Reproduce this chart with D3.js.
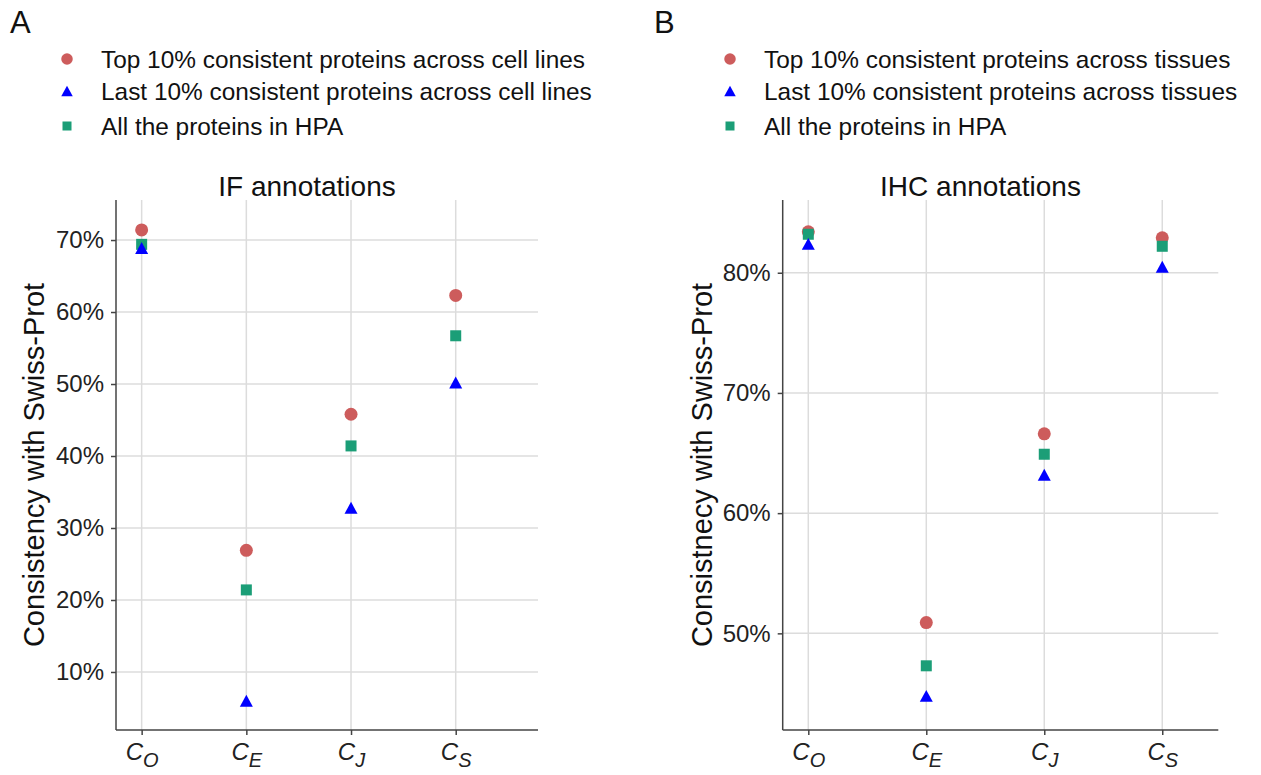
<!DOCTYPE html>
<html>
<head>
<meta charset="utf-8">
<script src="https://cdn.jsdelivr.net/npm/d3@7"></script>
<style>
  body { margin: 0; background: #fff; }
  svg { display: block; font-family: "Liberation Sans", Arial, sans-serif; }
  .axis text { font-size: 24px; fill: #222; }
</style>
</head>
<body>
<svg id="chart" width="1261" height="775"></svg>
<script>
// subscripts of the C_x categories
const categories = ["O", "E", "J", "S"];

const ifTop = [71.4, 26.9, 45.8, 62.3];
const ifLast = [68.9, 6.0, 32.8, 50.2];
const ifAll = [69.4, 21.4, 41.4, 56.7];
const ifTicks = [10, 20, 30, 40, 50, 60, 70];

const ihcTop = [83.4, 50.9, 66.6, 82.9];
const ihcLast = [82.4, 44.8, 63.2, 80.5];
const ihcAll = [83.2, 47.3, 64.9, 82.2];
const ihcTicks = [50, 60, 70, 80];

const ifLegend = [
  "Top 10% consistent proteins across cell lines",
  "Last 10% consistent proteins across cell lines",
  "All the proteins in HPA"
];
const ihcLegend = [
  "Top 10% consistent proteins across tissues",
  "Last 10% consistent proteins across tissues",
  "All the proteins in HPA"
];

const red = "#cd5c5c", blue = "#0000ff", green = "#1b9e77";

const svg = d3.select("#chart");

// marker shapes, bbox centred like matplotlib
function marker(g, shape, color, s) {
  if (shape == "circle") {
    g.append("circle").attr("r", s / 2).attr("fill", color);
  } else if (shape == "square") {
    g.append("rect").attr("x", -s / 2).attr("y", -s / 2)
      .attr("width", s).attr("height", s).attr("fill", color);
  } else {
    const w = s, h = s * 0.92;
    g.append("path").attr("d", `M0,${-h / 2}L${w / 2},${h / 2}L${-w / 2},${h / 2}Z`)
      .attr("fill", color);
  }
}

function drawPanel(cfg) {
  const x = d3.scaleLinear()
    .domain(cfg.xDomain)
    .range([cfg.left, cfg.right]);

  const y = d3.scaleLinear()
    .domain(cfg.yDomain)
    .range([cfg.bottom, cfg.top]);

  const g = svg.append("g");

  // grid
  g.append("g").selectAll("line")
    .data(cfg.ticks)
    .join("line")
      .attr("x1", cfg.left).attr("x2", cfg.right)
      .attr("y1", (d) => y(d)).attr("y2", (d) => y(d))
      .attr("stroke", "#dcdcdc").attr("stroke-width", 1.5);

  g.append("g").selectAll("line")
    .data(categories)
    .join("line")
      .attr("x1", (d, i) => x(i)).attr("x2", (d, i) => x(i))
      .attr("y1", cfg.top).attr("y2", cfg.bottom)
      .attr("stroke", "#dcdcdc").attr("stroke-width", 1.5);

  // y axis
  g.append("g")
    .attr("class", "axis")
    .attr("transform", `translate(${cfg.left},0)`)
    .call(d3.axisLeft(y).tickValues(cfg.ticks).tickFormat((d) => d + "%").tickSize(5).tickPadding(7))
    .call((a) => a.select(".domain").attr("stroke", "#444").attr("stroke-width", 1.5)
      .attr("d", `M0,${cfg.top}V${cfg.bottom}`))
    .call((a) => a.selectAll(".tick line").attr("stroke", "#444").attr("stroke-width", 1.5))
    .call((a) => a.selectAll(".tick text").attr("font-size", 24));

  // x axis
  const xa = g.append("g")
    .attr("class", "axis")
    .attr("transform", `translate(0,${cfg.bottom})`)
    .call(d3.axisBottom(x).tickValues(d3.range(categories.length)).tickFormat("").tickSize(5))
    .call((a) => a.select(".domain").attr("stroke", "#444").attr("stroke-width", 1.5)
      .attr("d", `M${cfg.left},0H${cfg.right}`))
    .call((a) => a.selectAll(".tick line").attr("stroke", "#444").attr("stroke-width", 1.5));

  xa.selectAll(".tick text").remove();
  const lab = xa.selectAll(".tick").append("text")
    .attr("y", 30)
    .attr("text-anchor", "middle")
    .attr("font-style", "italic")
    .attr("fill", "#222")
    .attr("font-size", 28);
  lab.append("tspan").text("C");
  lab.append("tspan").attr("font-size", 20).attr("dy", 7).text((d) => categories[d]);

  // points: red, green, blue order
  const series = [
    { vals: cfg.top10, shape: "circle", color: red, size: 13 },
    { vals: cfg.all, shape: "square", color: green, size: 11 },
    { vals: cfg.last10, shape: "triangle", color: blue, size: 13 }
  ];
  series.forEach((s) => {
    g.append("g").selectAll("g")
      .data(s.vals)
      .join("g")
        .attr("transform", (d, i) => `translate(${x(i)},${y(d)})`)
        .each(function () { marker(d3.select(this), s.shape, s.color, s.size); });
  });

  // title
  g.append("text")
    .attr("x", (cfg.left + cfg.right) / 2 - 20)
    .attr("y", 196)
    .attr("text-anchor", "middle")
    .attr("font-size", 28)
    .attr("fill", "#111")
    .text(cfg.title);

  // y label
  g.append("text")
    .attr("transform", `translate(${cfg.labelX},${(cfg.top + cfg.bottom) / 2}) rotate(-90)`)
    .attr("text-anchor", "middle")
    .attr("font-size", 29)
    .attr("fill", "#111")
    .text(cfg.ylabel);

  // panel letter
  g.append("text")
    .attr("x", cfg.letterX).attr("y", 33)
    .attr("font-size", 31)
    .attr("fill", "#111")
    .text(cfg.letter);

  // legend
  const legShapes = [
    { shape: "circle", color: red, size: 11.5 },
    { shape: "triangle", color: blue, size: 11.5 },
    { shape: "square", color: green, size: 9 }
  ];
  const rowY = [59, 91, 126];
  cfg.legend.forEach((t, i) => {
    const row = g.append("g").attr("transform", `translate(${cfg.legendX},${rowY[i]})`);
    marker(row, legShapes[i].shape, legShapes[i].color, legShapes[i].size);
    row.append("text")
      .attr("x", 34).attr("y", 8.5)
      .attr("font-size", 24.4)
      .attr("fill", "#111")
      .text(t);
  });
}

drawPanel({
  left: 116, right: 538, top: 200, bottom: 730,
  xDomain: [-0.245, 3.786], yDomain: [1.94, 75.56],
  ticks: ifTicks, top10: ifTop, last10: ifLast, all: ifAll,
  title: "IF annotations", ylabel: "Consistency with Swiss-Prot",
  labelX: 44, letter: "A", letterX: 10, legend: ifLegend, legendX: 67
});

drawPanel({
  left: 782.7, right: 1218.3, top: 200, bottom: 730,
  xDomain: [-0.217, 3.475], yDomain: [41.96, 86.05],
  ticks: ihcTicks, top10: ihcTop, last10: ihcLast, all: ihcAll,
  title: "IHC annotations", ylabel: "Consistnecy with Swiss-Prot",
  labelX: 712, letter: "B", letterX: 654, legend: ihcLegend, legendX: 730
});
</script>
</body>
</html>
